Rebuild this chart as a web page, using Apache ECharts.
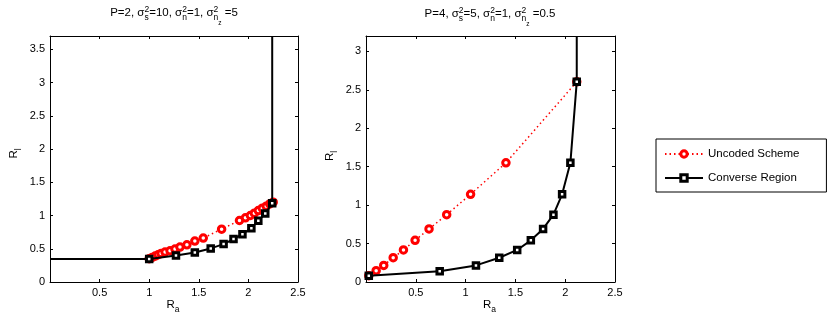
<!DOCTYPE html>
<html>
<head>
<meta charset="utf-8">
<script src="https://cdn.jsdelivr.net/npm/echarts@6/dist/echarts.min.js"></script>
<style>
    html, body {margin: 0; padding: 0; background: #fff;}
    #main {width: 830px; height: 332px;}
</style>
</head>
<body>
<div id="main"></div>
<script>
// left panel: P=2, sigma_s^2=10, sigma_n^2=1, sigma_nz^2=5
var leftUncodedRa = [1.00, 1.03, 1.06, 1.09, 1.12, 1.16, 1.21, 1.26, 1.31, 1.38, 1.46, 1.545, 1.73, 1.91, 1.97, 2.02, 2.06, 2.10, 2.14, 2.18, 2.215, 2.25];
var leftUncodedRl = [0.35, 0.37, 0.39, 0.41, 0.43, 0.45, 0.47, 0.495, 0.525, 0.56, 0.615, 0.66, 0.795, 0.925, 0.965, 1.00, 1.035, 1.075, 1.11, 1.14, 1.175, 1.20];
var leftConverseRa = [0, 1.00, 1.27, 1.46, 1.62, 1.75, 1.85, 1.94, 2.03, 2.10, 2.17, 2.24, 2.24];
var leftConverseRl = [0.345, 0.345, 0.40, 0.445, 0.505, 0.57, 0.645, 0.72, 0.81, 0.92, 1.03, 1.185, 3.7];
var leftConverseNoMarker = [0, 12];   // line ends without marker

// right panel: P=4, sigma_s^2=5, sigma_n^2=1, sigma_nz^2=0.5
var rightUncodedRa = [0.028, 0.102, 0.178, 0.273, 0.376, 0.493, 0.633, 0.81, 1.05, 1.405, 2.116];
var rightUncodedRl = [0.082, 0.147, 0.216, 0.316, 0.417, 0.542, 0.69, 0.876, 1.141, 1.55, 2.604];
var rightConverseRa = [0.028, 0.74, 1.104, 1.338, 1.518, 1.655, 1.778, 1.882, 1.969, 2.052, 2.116, 2.116];
var rightConverseRl = [0.082, 0.14, 0.216, 0.316, 0.417, 0.542, 0.69, 0.876, 1.141, 1.55, 2.604, 3.2];
var rightConverseNoMarker = [11];

var seriesNames = ['Uncoded Scheme', 'Converse Region'];
var xMax = 2.5, leftYMax = 3.7, rightYMax = 3.2;

var FONT = '"Liberation Sans", Arial, Helvetica, sans-serif';
var MAIN = 11.5, SCRIPT = 8.5, SUBSUB = 6.5;

var measureCtx = document.createElement('canvas').getContext('2d');
function tw(s, size) {
    measureCtx.font = size + 'px ' + FONT;
    return measureCtx.measureText(s).width;
}

// TeX-like label (superscript / subscript) built from text pieces
function mathLabel(parts, x, y, rotation) {
    var items = [], pos = 0;
    parts.forEach(function (p) {
        if (typeof p === 'string') {
            items.push({t: p, size: MAIN, dx: pos, dy: 0});
            pos += tw(p, MAIN);
        } else {
            var w = 0;
            if (p.sup) {
                items.push({t: p.sup, size: SCRIPT, dx: pos, dy: -3.5});
                w = tw(p.sup, SCRIPT);
            }
            if (p.sub) {
                items.push({t: p.sub, size: SCRIPT, dx: pos, dy: 5});
                var ws = tw(p.sub, SCRIPT);
                if (p.subsub) {
                    items.push({t: p.subsub, size: SUBSUB, dx: pos + ws, dy: 10.5});
                    ws += tw(p.subsub, SUBSUB);
                }
                w = Math.max(w, ws);
            }
            pos += w;
        }
    });
    var children = items.map(function (it) {
        return {
            type: 'text', x: it.dx - pos / 2, y: it.dy,
            style: {text: it.t, fontSize: it.size, fontFamily: FONT, fill: '#000', verticalAlign: 'middle', align: 'left'}
        };
    });
    return {type: 'group', x: x, y: y, rotation: rotation || 0, silent: true, children: children};
}

function pairs(xs, ys, noMarker) {
    var out = [];
    for (var i = 0; i < xs.length; i++) {
        if (noMarker && noMarker.indexOf(i) > -1) {
            out.push({value: [xs[i], ys[i]], symbol: 'none'});
        } else {
            out.push([xs[i], ys[i]]);
        }
    }
    return out;
}

// one axis of the boxed frame; labels only on bottom / left
function frameAxis(gridIndex, position, max, withLabels) {
    return {
        type: 'value', gridIndex: gridIndex, position: position,
        min: 0, max: max, interval: 0.5,
        axisLine: {show: true, onZero: false, lineStyle: {color: '#000', width: 1}},
        axisTick: {show: true, inside: true, length: 3, lineStyle: {color: '#000'}},
        axisLabel: {
            show: withLabels, color: '#000', fontSize: 11, fontFamily: FONT, margin: 5,
            showMinLabel: position === 'bottom' ? false : true,
            showMaxLabel: position === 'left' ? false : true
        },
        splitLine: {show: false}
    };
}

function uncodedSeries(xi, yi, data) {
    return {
        name: seriesNames[0], type: 'line', xAxisIndex: xi, yAxisIndex: yi, data: data,
        symbol: 'circle', symbolSize: 6.5,
        itemStyle: {color: '#fff', borderColor: '#ff0000', borderWidth: 3},
        lineStyle: {color: '#ff0000', width: 1.5, type: [1.5, 3]},
        z: 3
    };
}

function converseSeries(xi, yi, data) {
    return {
        name: seriesNames[1], type: 'line', xAxisIndex: xi, yAxisIndex: yi, data: data,
        symbol: 'rect', symbolSize: 5.5,
        itemStyle: {color: '#fff', borderColor: '#000', borderWidth: 3},
        lineStyle: {color: '#000', width: 2},
        z: 4
    };
}

var chart = echarts.init(document.getElementById('main'), null, {renderer: 'canvas'});

var option = {
    animation: false,
    backgroundColor: '#fff',
    textStyle: {fontFamily: FONT},
    grid: [
        {left: 50, top: 36, width: 248, height: 246},
        {left: 366, top: 36, width: 249, height: 246}
    ],
    xAxis: [
        frameAxis(0, 'bottom', xMax, true),
        frameAxis(0, 'top', xMax, false),
        frameAxis(1, 'bottom', xMax, true),
        frameAxis(1, 'top', xMax, false)
    ],
    yAxis: [
        frameAxis(0, 'left', leftYMax, true),
        frameAxis(0, 'right', leftYMax, false),
        frameAxis(1, 'left', rightYMax, true),
        frameAxis(1, 'right', rightYMax, false)
    ],
    legend: {
        data: [
            {name: seriesNames[0], itemStyle: {borderWidth: 3}},
            {name: seriesNames[1], itemStyle: {borderWidth: 3}}
        ],
        orient: 'vertical', left: 656, top: 139,
        itemWidth: 38, itemHeight: 8, itemGap: 12,
        padding: [9, 27, 8, 8],
        borderColor: '#000', borderWidth: 1, borderRadius: 0,
        textStyle: {fontSize: 11.5, color: '#000', fontFamily: FONT}
    },
    graphic: [
        mathLabel(['P=2, σ', {sup: '2', sub: 's'}, '=10, σ', {sup: '2', sub: 'n'}, '=1, σ', {sup: '2', sub: 'n', subsub: 'z'}, ' =5'], 174, 13),
        mathLabel(['P=4, σ', {sup: '2', sub: 's'}, '=5, σ', {sup: '2', sub: 'n'}, '=1, σ', {sup: '2', sub: 'n', subsub: 'z'}, ' =0.5'], 490, 14),
        mathLabel(['R', {sub: 'a'}], 173, 304.5),
        mathLabel(['R', {sub: 'a'}], 489.5, 304.5),
        mathLabel(['R', {sub: 'l'}], 13.5, 153.5, Math.PI / 2),
        mathLabel(['R', {sub: 'l'}], 329.5, 156, Math.PI / 2)
    ],
    series: [
        uncodedSeries(0, 0, pairs(leftUncodedRa, leftUncodedRl)),
        converseSeries(0, 0, pairs(leftConverseRa, leftConverseRl, leftConverseNoMarker)),
        uncodedSeries(2, 2, pairs(rightUncodedRa, rightUncodedRl)),
        converseSeries(2, 2, pairs(rightConverseRa, rightConverseRl, rightConverseNoMarker))
    ]
};

chart.setOption(option);
</script>
</body>
</html>
